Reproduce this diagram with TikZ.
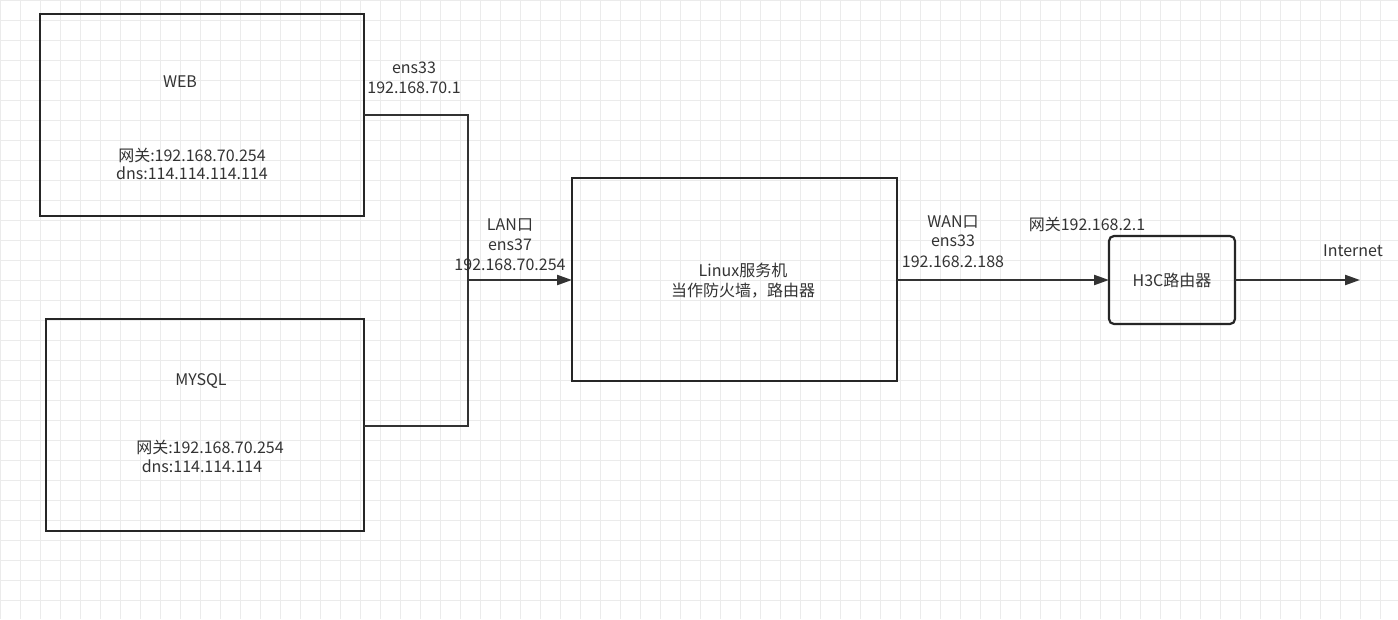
\documentclass[tikz,border=0pt]{standalone}
\usepackage{fontspec}
\setmainfont{Noto Sans CJK SC}
\usetikzlibrary{arrows.meta}
\begin{document}
\begin{tikzpicture}[x=1pt,y=-1pt,
  box/.style={draw=black!85,line width=2.2pt},
  conn/.style={draw=black!80,line width=2.2pt},
  arr/.style={conn,-{Triangle[length=15pt,width=10pt]}},
  lbl/.style={font=\fontsize{16}{19}\selectfont,text=black!80,inner sep=0pt}]
\useasboundingbox (0,0) rectangle (1398,619);
\fill[white] (0,0) rectangle (1398,619);
\foreach \x in {0,20,...,1398} \draw[black!8,line width=0.8pt] (\x,0) -- (\x,619);
\foreach \y in {0,20,...,619} \draw[black!8,line width=0.8pt] (0,\y) -- (1398,\y);
\draw[box] (40,14) rectangle (364,216);
\draw[box] (46,319) rectangle (364,531);
\draw[box] (572,178) rectangle (897,381);
\draw[box,rounded corners=5pt] (1109,236) rectangle (1235,324);
\coordinate (webR) at (364,115);
\coordinate (myR) at (364,426);
\coordinate (j) at (468,280);
\coordinate (lin) at (572,280);
\coordinate (linR) at (897,280);
\coordinate (h3L) at (1109,280);
\coordinate (h3R) at (1235,280);
\coordinate (inet) at (1360,280);
\draw[conn] (webR) -- (468,115) -- (468,426) -- (myR);
\draw[arr] (j) -- (lin);
\draw[arr] (linR) -- (h3L);
\draw[arr] (h3R) -- (inet);
\node[lbl] (web) at (180,82) {WEB};
\node[lbl] (wg) at (192,155) {网关:192.168.70.254};
\node[lbl] (wd) at (192,173) {dns:114.114.114.114};
\node[lbl] (my) at (201,381) {MYSQL};
\node[lbl] (mg) at (210,447) {网关:192.168.70.254};
\node[lbl] (md) at (202,466) {dns:114.114.114};
\node[lbl] (l1) at (743,270) {Linux服务机};
\node[lbl] (l2) at (743,291) {当作防火墙，路由器};
\node[lbl] (h3) at (1172,280) {H3C路由器};
\node[lbl] (in) at (1353,251) {Internet};
\node[lbl] (a1) at (414,68) {ens33};
\node[lbl] (a2) at (414,88) {192.168.70.1};
\node[lbl] (b1) at (510,225) {LAN口};
\node[lbl] (b2) at (510,245) {ens37};
\node[lbl] (b3) at (510,265) {192.168.70.254};
\node[lbl] (c1) at (953,222) {WAN口};
\node[lbl] (c2) at (953,241) {ens33};
\node[lbl] (c3) at (953,262) {192.168.2.188};
\node[lbl] (g) at (1087,224) {网关192.168.2.1};
\end{tikzpicture}
\end{document}
